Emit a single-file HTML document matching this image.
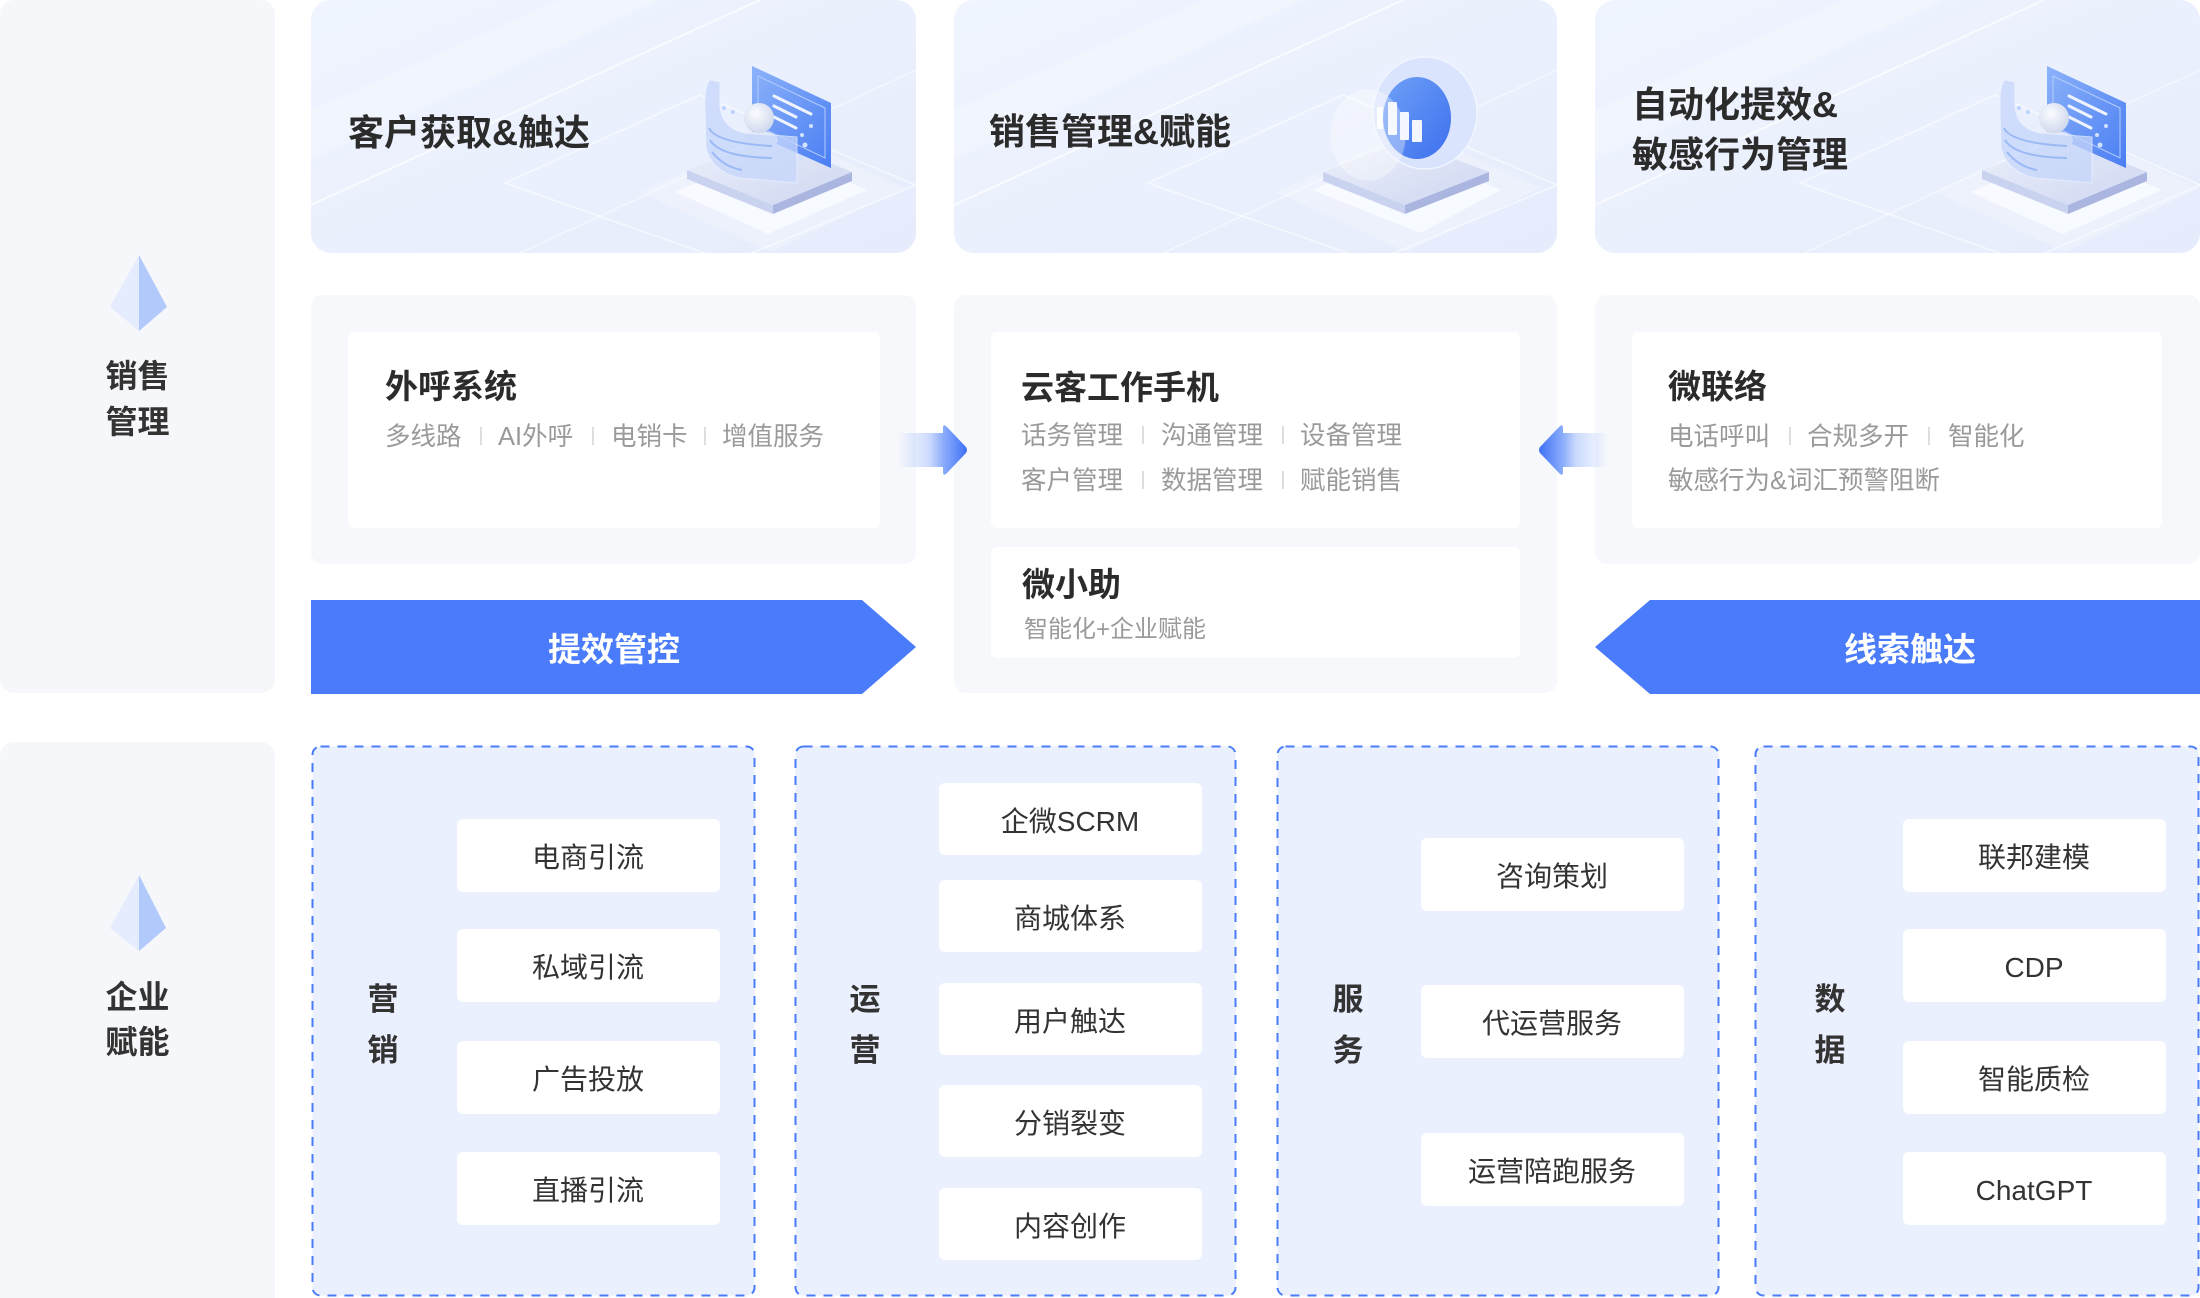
<!DOCTYPE html>
<html><head><meta charset="utf-8">
<style>
html,body{margin:0;padding:0;}
body{width:2200px;height:1298px;position:relative;overflow:hidden;background:#fff;font-family:"Liberation Sans","Noto Sans CJK SC",sans-serif;}
svg.bg{position:absolute;left:0;top:0;}
.t{position:absolute;white-space:nowrap;transform:translateY(3px);}
.h{font-weight:700;color:#2b2b2b;}
.g{color:#9a9a9a;font-size:25.5px;line-height:34px;height:34px;}
.sep{position:absolute;width:1.5px;height:18px;background:#dedede;transform:translateY(2px);}
.c{text-align:center;width:400px;}
.tt{font-size:36px;line-height:50px;font-weight:700;color:#2b2b2b;}
.mt{font-size:33px;line-height:44px;font-weight:700;color:#2b2b2b;}
.lb{font-size:32px;line-height:46px;font-weight:700;color:#333;text-align:center;width:275px;left:0;}
.bn{font-size:33px;line-height:44px;font-weight:700;color:#fff;}
.vl{font-size:31px;line-height:40px;font-weight:700;color:#333;}
.it{font-size:28px;line-height:40px;color:#333;}
</style></head>
<body>
<svg class="bg" width="2200" height="1298" viewBox="0 0 2200 1298" xmlns="http://www.w3.org/2000/svg">
<defs>
  <linearGradient id="cardBg" x1="0" y1="0" x2="1" y2="1">
    <stop offset="0" stop-color="#eff4fe"/>
    <stop offset="1" stop-color="#e6ecfc"/>
  </linearGradient>
  <linearGradient id="slab" x1="0" y1="0" x2="1" y2="1">
    <stop offset="0" stop-color="#eef1fb"/>
    <stop offset="1" stop-color="#cdd6f1"/>
  </linearGradient>
  <linearGradient id="bluePanel" x1="0" y1="0" x2="1" y2="1">
    <stop offset="0" stop-color="#8cb2fa"/>
    <stop offset="1" stop-color="#4a7ef2"/>
  </linearGradient>
  <linearGradient id="blueDisc" x1="0" y1="0" x2="1" y2="1">
    <stop offset="0" stop-color="#6fa0f7"/>
    <stop offset="1" stop-color="#3d70ee"/>
  </linearGradient>
  <radialGradient id="sphere" cx="0.4" cy="0.35" r="0.7">
    <stop offset="0" stop-color="#fbfcff"/>
    <stop offset="1" stop-color="#cdd6ec"/>
  </radialGradient>
  <linearGradient id="arrowR" gradientUnits="userSpaceOnUse" x1="898" y1="0" x2="968" y2="0">
    <stop offset="0" stop-color="#5d8bfa" stop-opacity="0"/>
    <stop offset="0.45" stop-color="#6d96fa" stop-opacity="0.35"/>
    <stop offset="0.65" stop-color="#6390fa" stop-opacity="0.75"/>
    <stop offset="1" stop-color="#3a6cf6" stop-opacity="1"/>
  </linearGradient>
  <linearGradient id="arrowL" gradientUnits="userSpaceOnUse" x1="1608" y1="0" x2="1538" y2="0">
    <stop offset="0" stop-color="#5d8bfa" stop-opacity="0"/>
    <stop offset="0.45" stop-color="#6d96fa" stop-opacity="0.35"/>
    <stop offset="0.65" stop-color="#6390fa" stop-opacity="0.75"/>
    <stop offset="1" stop-color="#3a6cf6" stop-opacity="1"/>
  </linearGradient>
  <clipPath id="c1"><rect x="311" y="0" width="605" height="253" rx="20"/></clipPath>
  <clipPath id="c2"><rect x="954" y="0" width="603" height="253" rx="20"/></clipPath>
  <clipPath id="c3"><rect x="1595" y="0" width="605" height="253" rx="20"/></clipPath>
</defs>

<!-- left panels -->
<rect x="0" y="0" width="275" height="693" rx="14" fill="#f6f7fa"/>
<rect x="0" y="742" width="275" height="600" rx="14" fill="#f6f7fa"/>
<polygon points="139,255 110,307 139,331" fill="#e4ecfd"/>
<polygon points="139,255 167,307 139,331" fill="#b1c9fb"/>
<polygon points="139,875 110,928 139,951" fill="#e4ecfd"/>
<polygon points="139,875 166,928 139,951" fill="#b1c9fb"/>

<!-- top cards -->
<g clip-path="url(#c1)">
  <rect x="311" y="0" width="605" height="253" fill="url(#cardBg)"/>
  <polygon points="311,110 560,0 660,0 311,160" fill="#ffffff" opacity="0.25"/>
  <line x1="311" y1="205" x2="760" y2="0" stroke="#ffffff" stroke-width="2" opacity="0.7"/>
  <line x1="520" y1="253" x2="916" y2="70" stroke="#ffffff" stroke-width="1.5" opacity="0.5"/>
  <polygon points="505,183 700,95 916,185 730,262" fill="none" stroke="#ffffff" stroke-width="1.5" opacity="0.6"/>
</g>
<g clip-path="url(#c2)">
  <rect x="954" y="0" width="603" height="253" fill="url(#cardBg)"/>
  <polygon points="954,110 1203,0 1303,0 954,160" fill="#ffffff" opacity="0.25"/>
  <line x1="954" y1="205" x2="1403" y2="0" stroke="#ffffff" stroke-width="2" opacity="0.7"/>
  <line x1="1163" y1="253" x2="1557" y2="70" stroke="#ffffff" stroke-width="1.5" opacity="0.5"/>
  <polygon points="1148,183 1343,95 1557,185 1373,262" fill="none" stroke="#ffffff" stroke-width="1.5" opacity="0.6"/>
</g>
<g clip-path="url(#c3)">
  <rect x="1595" y="0" width="605" height="253" fill="url(#cardBg)"/>
  <polygon points="1595,110 1844,0 1944,0 1595,160" fill="#ffffff" opacity="0.25"/>
  <line x1="1595" y1="205" x2="2044" y2="0" stroke="#ffffff" stroke-width="2" opacity="0.7"/>
  <line x1="1804" y1="253" x2="2200" y2="70" stroke="#ffffff" stroke-width="1.5" opacity="0.5"/>
  <polygon points="1800,183 1995,95 2200,185 2025,262" fill="none" stroke="#ffffff" stroke-width="1.5" opacity="0.6"/>
</g>

<!-- person illustration card1 -->
<g id="person">
  <polygon points="640,192 775,130 905,188 770,252" fill="#ffffff" opacity="0.22"/>
  <polygon points="675,192 775,150 867,190 768,234" fill="#f8faff" opacity="0.95"/>
  <polygon points="687,170 773,205 773,214 687,179" fill="#c9d2ef"/>
  <polygon points="773,205 852,172 852,181 773,214" fill="#aab6e0"/>
  <polygon points="687,170 770,138 852,172 773,205" fill="url(#slab)"/>
  <polygon points="752,66 831,103 831,168 752,133" fill="url(#bluePanel)"/>
  <polygon points="758,76 825,108 825,158 758,126" fill="none" stroke="#b3cbfc" stroke-width="1"/>
  <line x1="774" y1="96" x2="811" y2="114" stroke="#eef3ff" stroke-width="3" stroke-linecap="round"/>
  <line x1="774" y1="106" x2="796" y2="117" stroke="#eef3ff" stroke-width="3" stroke-linecap="round"/>
  <line x1="774" y1="117" x2="796" y2="128" stroke="#eef3ff" stroke-width="3" stroke-linecap="round"/>
  <circle cx="811" cy="126" r="2" fill="#d0e2ff"/>
  <circle cx="802" cy="135" r="2" fill="#d0e2ff"/>
  <circle cx="805" cy="145" r="2.5" fill="#d0e2ff"/>
  <circle cx="801" cy="158" r="2" fill="#d0e2ff"/>
  <ellipse cx="760" cy="140" rx="18" ry="9" fill="#dfe6f6"/>
  <circle cx="759" cy="118" r="15" fill="url(#sphere)"/>
  <path d="M710,80 Q704,86 705,110 L706,148 Q712,172 740,178 L797,183 L797,137 L745,133 Q722,128 720,107 L720,82 Z" fill="#c6d6fb" opacity="0.75" stroke="#e8efff" stroke-width="1"/>
  <path d="M709,128 Q716,143 772,146" fill="none" stroke="#8fb0f5" stroke-width="2" opacity="0.8"/>
  <path d="M710,140 Q720,157 772,158" fill="none" stroke="#8fb0f5" stroke-width="2" opacity="0.8"/>
  <path d="M712,152 Q724,167 742,170" fill="none" stroke="#8fb0f5" stroke-width="2" opacity="0.8"/>
  <circle cx="724" cy="108" r="2" fill="#bcd3ff"/>
  <circle cx="733" cy="112" r="2" fill="#bcd3ff"/>
</g>
<g transform="translate(1295,0)">
  <polygon points="640,192 775,130 905,188 770,252" fill="#ffffff" opacity="0.22"/>
  <polygon points="675,192 775,150 867,190 768,234" fill="#f8faff" opacity="0.95"/>
  <polygon points="687,170 773,205 773,214 687,179" fill="#c9d2ef"/>
  <polygon points="773,205 852,172 852,181 773,214" fill="#aab6e0"/>
  <polygon points="687,170 770,138 852,172 773,205" fill="url(#slab)"/>
  <polygon points="752,66 831,103 831,168 752,133" fill="url(#bluePanel)"/>
  <polygon points="758,76 825,108 825,158 758,126" fill="none" stroke="#b3cbfc" stroke-width="1"/>
  <line x1="774" y1="96" x2="811" y2="114" stroke="#eef3ff" stroke-width="3" stroke-linecap="round"/>
  <line x1="774" y1="106" x2="796" y2="117" stroke="#eef3ff" stroke-width="3" stroke-linecap="round"/>
  <line x1="774" y1="117" x2="796" y2="128" stroke="#eef3ff" stroke-width="3" stroke-linecap="round"/>
  <circle cx="811" cy="126" r="2" fill="#d0e2ff"/>
  <circle cx="802" cy="135" r="2" fill="#d0e2ff"/>
  <circle cx="805" cy="145" r="2.5" fill="#d0e2ff"/>
  <circle cx="801" cy="158" r="2" fill="#d0e2ff"/>
  <ellipse cx="760" cy="140" rx="18" ry="9" fill="#dfe6f6"/>
  <circle cx="759" cy="118" r="15" fill="url(#sphere)"/>
  <path d="M710,80 Q704,86 705,110 L706,148 Q712,172 740,178 L797,183 L797,137 L745,133 Q722,128 720,107 L720,82 Z" fill="#c6d6fb" opacity="0.75" stroke="#e8efff" stroke-width="1"/>
  <path d="M709,128 Q716,143 772,146" fill="none" stroke="#8fb0f5" stroke-width="2" opacity="0.8"/>
  <path d="M710,140 Q720,157 772,158" fill="none" stroke="#8fb0f5" stroke-width="2" opacity="0.8"/>
  <path d="M712,152 Q724,167 742,170" fill="none" stroke="#8fb0f5" stroke-width="2" opacity="0.8"/>
  <circle cx="724" cy="108" r="2" fill="#bcd3ff"/>
  <circle cx="733" cy="112" r="2" fill="#bcd3ff"/>
</g>

<!-- disc illustration card2 -->
<g>
  <polygon points="1276,192 1411,130 1541,188 1406,252" fill="#ffffff" opacity="0.22"/>
  <polygon points="1312,190 1405,150 1501,190 1420,233" fill="#f8faff" opacity="0.95"/>
  <polygon points="1323,172 1405,205 1405,214 1323,181" fill="#c9d2ef"/>
  <polygon points="1405,205 1489,172 1489,181 1405,214" fill="#aab6e0"/>
  <polygon points="1323,172 1405,140 1489,172 1405,205" fill="url(#slab)"/>
  <ellipse cx="1425" cy="113" rx="52" ry="56" fill="#d9e3fd" opacity="0.9" stroke="#f2f6ff" stroke-width="1.5"/>
  <ellipse cx="1417" cy="118" rx="34" ry="41" fill="url(#blueDisc)"/>
  <ellipse cx="1368" cy="135" rx="37" ry="45" fill="#ffffff" opacity="0.35" stroke="#ffffff" stroke-opacity="0.85" stroke-width="1.5"/>
  <rect x="1377" y="107" width="6" height="22" rx="1" fill="#ffffff" opacity="0.9"/>
  <rect x="1388" y="102" width="9" height="33" rx="1" fill="#ffffff" opacity="0.9"/>
  <rect x="1400" y="112" width="9" height="28" rx="1" fill="#f3f6ff"/>
  <rect x="1412" y="120" width="10" height="22" rx="1" fill="#f3f6ff"/>
</g>

<!-- middle panels -->
<rect x="311" y="295" width="605" height="269" rx="12" fill="#f6f8fb"/>
<rect x="954" y="295" width="603" height="398" rx="12" fill="#f6f8fb"/>
<rect x="1595" y="295" width="605" height="269" rx="12" fill="#f6f8fb"/>
<rect x="348" y="332" width="532" height="196" rx="6" fill="#ffffff"/>
<rect x="991" y="332" width="529" height="196" rx="6" fill="#ffffff"/>
<rect x="991" y="547" width="529" height="111" rx="6" fill="#ffffff"/>
<rect x="1632" y="332" width="530" height="196" rx="6" fill="#ffffff"/>

<!-- arrows -->
<path d="M898,433 L943,433 L943,428 Q943,423 947,427 L966,447 Q968,450 966,453 L947,473 Q943,477 943,472 L943,467 L898,467 Z" fill="url(#arrowR)"/>
<path d="M1608,433 L1563,433 L1563,428 Q1563,423 1559,427 L1540,447 Q1538,450 1540,453 L1559,473 Q1563,477 1563,472 L1563,467 L1608,467 Z" fill="url(#arrowL)"/>

<!-- banners -->
<polygon points="311,600 862,600 916,647 862,694 311,694" fill="#4a7bfa"/>
<polygon points="1595,647 1650,600 2200,600 2200,694 1650,694" fill="#4a7bfa"/>

<!-- dashed boxes -->
<rect x="312.5" y="746.5" width="442" height="549" rx="8" fill="#eaf0fe" stroke="#4a7cfa" stroke-width="2" stroke-dasharray="9 8"/>
<rect x="795.5" y="746.5" width="440" height="549" rx="8" fill="#eaf0fe" stroke="#4a7cfa" stroke-width="2" stroke-dasharray="9 8"/>
<rect x="1277.5" y="746.5" width="441" height="549" rx="8" fill="#eaf0fe" stroke="#4a7cfa" stroke-width="2" stroke-dasharray="9 8"/>
<rect x="1755.5" y="746.5" width="443" height="549" rx="8" fill="#eaf0fe" stroke="#4a7cfa" stroke-width="2" stroke-dasharray="9 8"/>

<!-- items -->
<g fill="#ffffff">
  <rect x="457" y="819" width="263" height="73" rx="6"/>
  <rect x="457" y="929" width="263" height="73" rx="6"/>
  <rect x="457" y="1041" width="263" height="73" rx="6"/>
  <rect x="457" y="1152" width="263" height="73" rx="6"/>

  <rect x="939" y="783" width="263" height="72" rx="6"/>
  <rect x="939" y="880" width="263" height="72" rx="6"/>
  <rect x="939" y="983" width="263" height="72" rx="6"/>
  <rect x="939" y="1085" width="263" height="72" rx="6"/>
  <rect x="939" y="1188" width="263" height="72" rx="6"/>

  <rect x="1421" y="838" width="263" height="73" rx="6"/>
  <rect x="1421" y="985" width="263" height="73" rx="6"/>
  <rect x="1421" y="1133" width="263" height="73" rx="6"/>

  <rect x="1903" y="819" width="263" height="73" rx="6"/>
  <rect x="1903" y="929" width="263" height="73" rx="6"/>
  <rect x="1903" y="1041" width="263" height="73" rx="6"/>
  <rect x="1903" y="1152" width="263" height="73" rx="6"/>
</g>
</svg>

<!-- left labels -->
<div class="t lb" style="top:350px;">销售</div>
<div class="t lb" style="top:396px;">管理</div>
<div class="t lb" style="top:971px;">企业</div>
<div class="t lb" style="top:1016px;">赋能</div>

<!-- top card titles -->
<div class="t tt" style="left:348px;top:105px;">客户获取&amp;触达</div>
<div class="t tt" style="left:989px;top:104px;">销售管理&amp;赋能</div>
<div class="t tt" style="left:1632px;top:77px;">自动化提效&amp;</div>
<div class="t tt" style="left:1632px;top:127px;">敏感行为管理</div>

<!-- middle card 1 -->
<div class="t mt" style="left:385px;top:362px;">外呼系统</div>
<div class="t g" style="left:385px;top:417px;">多线路</div>
<div class="sep" style="left:480px;top:425px;"></div>
<div class="t g" style="left:498px;top:417px;">AI外呼</div>
<div class="sep" style="left:592px;top:425px;"></div>
<div class="t g" style="left:611px;top:417px;">电销卡</div>
<div class="sep" style="left:704px;top:425px;"></div>
<div class="t g" style="left:722px;top:417px;">增值服务</div>

<!-- middle card 2 -->
<div class="t mt" style="left:1021px;top:363px;">云客工作手机</div>
<div class="t g" style="left:1021px;top:416px;">话务管理</div>
<div class="sep" style="left:1142px;top:424px;"></div>
<div class="t g" style="left:1161px;top:416px;">沟通管理</div>
<div class="sep" style="left:1282px;top:424px;"></div>
<div class="t g" style="left:1300px;top:416px;">设备管理</div>
<div class="t g" style="left:1021px;top:461px;">客户管理</div>
<div class="sep" style="left:1142px;top:469px;"></div>
<div class="t g" style="left:1161px;top:461px;">数据管理</div>
<div class="sep" style="left:1282px;top:469px;"></div>
<div class="t g" style="left:1300px;top:461px;">赋能销售</div>

<div class="t mt" style="left:1022px;top:560px;">微小助</div>
<div class="t" style="left:1024px;top:611px;font-size:24px;line-height:32px;color:#9a9a9a;">智能化+企业赋能</div>

<!-- middle card 3 -->
<div class="t mt" style="left:1668px;top:362px;">微联络</div>
<div class="t g" style="left:1668px;top:417px;">电话呼叫</div>
<div class="sep" style="left:1789px;top:425px;"></div>
<div class="t g" style="left:1807px;top:417px;">合规多开</div>
<div class="sep" style="left:1928px;top:425px;"></div>
<div class="t g" style="left:1948px;top:417px;">智能化</div>
<div class="t g" style="left:1668px;top:461px;">敏感行为&amp;词汇预警阻断</div>

<!-- banners -->
<div class="t bn c" style="left:414px;top:625px;">提效管控</div>
<div class="t bn c" style="left:1710px;top:625px;">线索触达</div>

<!-- bottom vertical labels -->
<div class="t vl c" style="left:183px;top:977px;">营</div>
<div class="t vl c" style="left:183px;top:1028px;">销</div>
<div class="t vl c" style="left:665px;top:977px;">运</div>
<div class="t vl c" style="left:665px;top:1028px;">营</div>
<div class="t vl c" style="left:1148px;top:977px;">服</div>
<div class="t vl c" style="left:1148px;top:1028px;">务</div>
<div class="t vl c" style="left:1630px;top:977px;">数</div>
<div class="t vl c" style="left:1630px;top:1028px;">据</div>

<!-- bottom items text -->
<div class="t it c" style="left:388px;top:835px;">电商引流</div>
<div class="t it c" style="left:388px;top:945px;">私域引流</div>
<div class="t it c" style="left:388px;top:1057px;">广告投放</div>
<div class="t it c" style="left:388px;top:1168px;">直播引流</div>

<div class="t it c" style="left:870px;top:799px;">企微SCRM</div>
<div class="t it c" style="left:870px;top:896px;">商城体系</div>
<div class="t it c" style="left:870px;top:999px;">用户触达</div>
<div class="t it c" style="left:870px;top:1101px;">分销裂变</div>
<div class="t it c" style="left:870px;top:1204px;">内容创作</div>

<div class="t it c" style="left:1352px;top:854px;">咨询策划</div>
<div class="t it c" style="left:1352px;top:1001px;">代运营服务</div>
<div class="t it c" style="left:1352px;top:1149px;">运营陪跑服务</div>

<div class="t it c" style="left:1834px;top:835px;">联邦建模</div>
<div class="t it c" style="left:1834px;top:945px;">CDP</div>
<div class="t it c" style="left:1834px;top:1057px;">智能质检</div>
<div class="t it c" style="left:1834px;top:1168px;">ChatGPT</div>
</body></html>
